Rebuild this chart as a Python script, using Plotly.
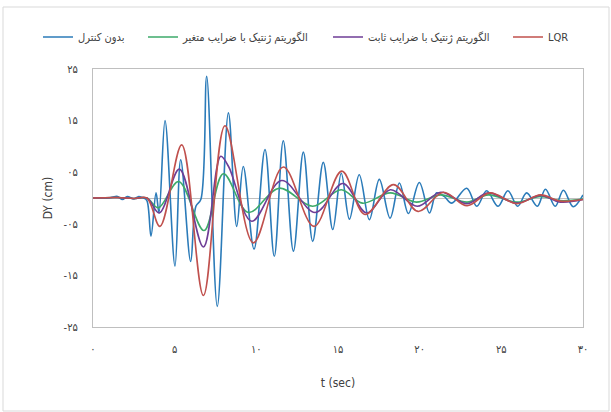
import plotly.graph_objects as go

# ---- data ----
t_none = [0, 1.0, 1.5, 1.8, 2.1, 2.5, 2.8, 3.1, 3.3, 3.55, 3.86, 4.04, 4.41, 5.02, 5.37, 5.98, 6.3, 6.6,
          6.96, 7.61, 8.29, 8.8, 9.2, 9.86, 10.53, 11.1, 11.65, 12.27, 12.88, 13.45, 14.1, 14.68, 15.2,
          15.7, 16.3, 16.92, 17.53, 18.19, 18.76, 19.31, 19.98, 20.6, 21.04, 21.5, 21.96, 22.88, 23.5,
          24.1, 24.8, 25.4, 26.0, 26.55, 27.2, 27.7, 28.3, 28.8, 29.4, 30.0]
y_none = [0, 0, 0.3, -0.3, 0.3, -0.2, 0.3, 0, -0.5, -7.4, 1.0, -2.9, 15.0, -13.2, 7.4, -12.3, -1.6, -0.3,
          23.6, -21.0, 16.5, -5.5, 6.1, -9.9, 9.4, -11.3, 11.1, -10.3, 8.9, -8.4, 6.9, -6.1, 4.8,
          -4.1, 4.5, -4.2, 3.6, -3.9, 2.9, -3.0, 3.0, -2.9, 1.0, 0.3, -1.0, 1.9, -1.6,
          1.4, -1.6, 1.4, -1.6, 1.0, -1.6, 1.7, -1.6, 1.5, -1.7, 0.6]

t_var = [0, 1.5, 2.5, 3.3, 4.0, 5.25, 6.8, 7.98, 9.51, 11.4, 13.45, 15.2, 16.5, 18.2, 19.8, 21.3,
         22.9, 24.2, 25.95, 27.4, 28.6, 30.0]
y_var = [0, 0.1, -0.1, 0, -1.9, 3.2, -6.3, 4.7, -2.8, 1.9, -1.6, 1.6, -1.0, 1.0, -0.8, 0.6,
         -0.8, 0.6, -0.8, 0.3, -0.5, -0.2]

t_fix = [0, 1.5, 2.5, 3.3, 4.06, 5.29, 6.76, 7.82, 8.3, 9.72, 11.55, 13.6, 15.3, 16.75, 18.2, 19.85,
         21.3, 22.9, 24.2, 25.95, 27.4, 28.6, 30.0]
y_fix = [0, 0.1, -0.1, 0, -2.9, 5.6, -9.5, 8.1, 6.1, -4.5, 3.4, -2.8, 2.8, -2.9, 1.6, -1.6,
         1.1, -1.1, 1.0, -1.0, 0.5, -0.8, -0.3]

t_lqr = [0, 1.5, 2.5, 3.3, 4.1, 5.43, 6.76, 8.08, 9.82, 11.65, 13.53, 15.23, 16.65, 18.4, 19.9,
         21.45, 22.9, 24.3, 25.95, 27.4, 28.6, 30.0]
y_lqr = [0, 0.1, -0.1, 0, -5.5, 10.3, -18.9, 14.0, -8.7, 6.0, -5.5, 5.2, -3.2, 2.6, -2.6,
         1.1, -1.5, 1.0, -1.1, 0.6, -0.6, -0.3]

names = ["بدون کنترل", "الگوریتم ژنتیک با ضرایب متغیر", "الگوریتم ژنتیک با ضرایب ثابت", "LQR"]
colors = ["#2B7BB9", "#3DAA6A", "#6E3D96", "#C0504D"]

x_tickvals = [0, 5, 10, 15, 20, 25, 30]
x_ticktext = ["۰", "۵", "۱۰", "۱۵", "۲۰", "۲۵", "۳۰"]
y_tickvals = [25, 15, 5, -5, -15, -25]
y_ticktext = ["۲۵", "۱۵", "۰۵", "-۰۵", "-۱۵", "-۲۵"]

W, H = 611, 412
legend_ids = ["legend", "legend2", "legend3", "legend4"]
legend_line_px = [43, 148, 333, 513]   # left edge of each legend line sample

fig = go.Figure()
series = [(t_none, y_none), (t_var, y_var), (t_fix, y_fix), (t_lqr, y_lqr)]
for (tx, ty), nm, c, lg in zip(series, names, colors, legend_ids):
    fig.add_trace(go.Scatter(x=tx, y=ty, mode="lines", name=nm, legend=lg,
                             line=dict(color=c, width=1.6, shape="spline", smoothing=1.0)))

font_main = "DejaVu Sans Condensed, DejaVu Sans, sans-serif"

legend_common = dict(orientation="h", xref="container", yref="container",
                     xanchor="left", yanchor="middle", y=1 - 37 / H,
                     font=dict(size=11, color="#404040"), itemwidth=30,
                     bgcolor="rgba(0,0,0,0)", borderwidth=0)
legends = {}
for lg, px in zip(legend_ids, legend_line_px):
    legends[lg] = dict(legend_common, x=(px - 5) / W)

fig.update_layout(
    width=W, height=H,
    margin=dict(l=93, r=28, t=69, b=85),
    paper_bgcolor="white", plot_bgcolor="white",
    font=dict(family=font_main, size=11, color="#404040"),
    showlegend=True,
    xaxis=dict(range=[0, 30], tickvals=x_tickvals, ticktext=x_ticktext,
               showgrid=False, zeroline=False, showline=True, linecolor="#BFBFBF",
               linewidth=1, mirror=True, ticks="", ticklabelstandoff=12,
               title=dict(text="t (sec)", font=dict(size=12, color="#404040"), standoff=23)),
    yaxis=dict(range=[-25, 25], tickvals=y_tickvals, ticktext=y_ticktext,
               showgrid=False, zeroline=True, zerolinecolor="#BFBFBF", zerolinewidth=1,
               showline=True, linecolor="#BFBFBF", linewidth=1, mirror=True,
               ticks="", ticklabelstandoff=12,
               title=dict(text="DY (cm)", font=dict(size=12, color="#404040"), standoff=8)),
    **legends,
)

# outer chart border
fig.add_shape(type="rect", xref="paper", yref="paper",
              x0=(3 - 93) / 490, x1=(609 - 93) / 490,
              y0=(327 - 411) / 258, y1=(327 - 7) / 258,
              line=dict(color="#D9D9D9", width=1), fillcolor="rgba(0,0,0,0)", layer="below")

fig.write_html("out.html", config={"displayModeBar": False},
               post_script="document.body.style.margin='0';document.body.style.padding='0';")
